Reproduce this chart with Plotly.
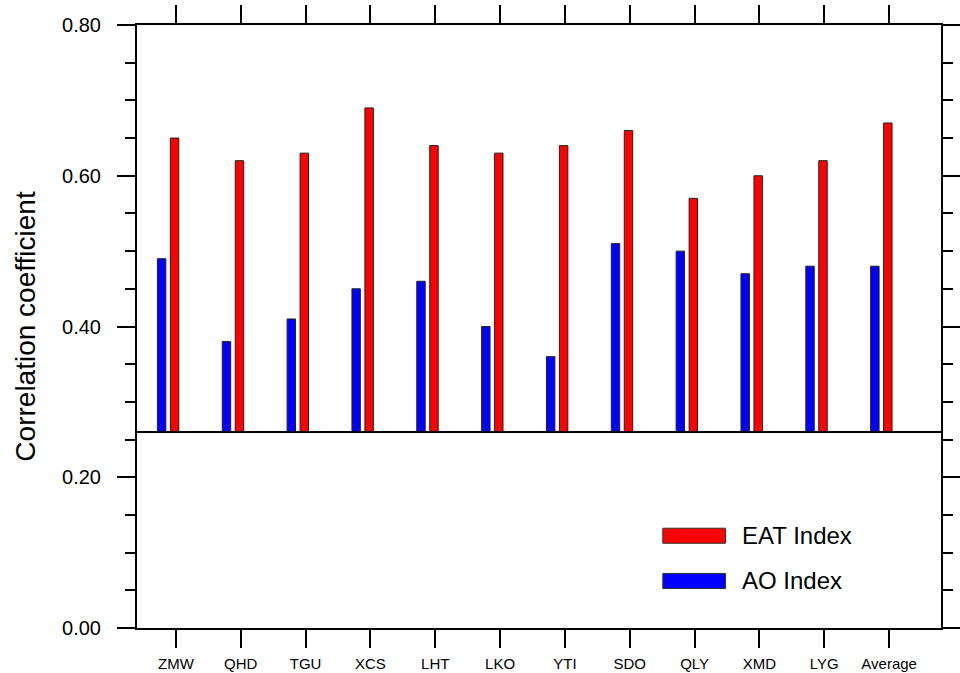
import plotly.graph_objects as go

stations = ["ZMW", "QHD", "TGU", "XCS", "LHT", "LKO", "YTI", "SDO", "QLY", "XMD", "LYG", "Average"]
eat_index = [0.65, 0.62, 0.63, 0.69, 0.64, 0.63, 0.64, 0.66, 0.57, 0.60, 0.62, 0.67]
ao_index = [0.49, 0.38, 0.41, 0.45, 0.46, 0.40, 0.36, 0.51, 0.50, 0.47, 0.48, 0.48]
base_value = 0.26
y_ticks = [0.0, 0.2, 0.4, 0.6, 0.8]

pos = list(range(1, len(stations) + 1))
bw = 0.13
FONT = "Liberation Sans, Arial, Helvetica, sans-serif"

fig = go.Figure()
fig.add_trace(go.Bar(
    x=[p - 0.22 for p in pos], y=[v - base_value for v in ao_index], base=base_value,
    width=bw, marker=dict(color="#0000ff", line=dict(color="#222222", width=1)),
    name="AO Index", showlegend=False))
fig.add_trace(go.Bar(
    x=[p - 0.02 for p in pos], y=[v - base_value for v in eat_index], base=base_value,
    width=bw, marker=dict(color="#ff0000", line=dict(color="#222222", width=1)),
    name="EAT Index", showlegend=False))

# baseline reference line
fig.add_shape(type="line", xref="paper", yref="y", x0=0, x1=1, y0=base_value, y1=base_value,
              line=dict(color="black", width=2), layer="above")

# manual legend
legend_items = [("EAT Index", "#ff0000", 0.153), ("AO Index", "#0000ff", 0.078)]
for label, col, yp in legend_items:
    fig.add_shape(type="rect", xref="paper", yref="paper",
                  x0=0.654, x1=0.732, y0=yp - 0.0125, y1=yp + 0.0125,
                  fillcolor=col, line=dict(color="#333333", width=1))
    fig.add_annotation(text=label, xref="paper", yref="paper", x=0.750, y=yp,
                       xanchor="left", yanchor="middle", showarrow=False,
                       font=dict(family=FONT, size=24, color="black"))

fig.update_layout(
    width=960, height=673,
    margin=dict(l=137, r=19, t=25, b=45),
    paper_bgcolor="white", plot_bgcolor="white",
    barmode="overlay",
    font=dict(family=FONT, color="black"),
    showlegend=False,
)
fig.update_xaxes(
    range=[0.4, 12.8], tickvals=pos, ticktext=stations,
    ticks="outside", ticklen=18, tickwidth=2, tickcolor="black",
    showline=True, linecolor="black", linewidth=2, mirror="ticks",
    showgrid=False, zeroline=False, automargin=False,
    tickfont=dict(family=FONT, size=15, color="black"), ticklabelstandoff=3,
)
fig.update_yaxes(
    range=[0, 0.8], tickvals=y_ticks, tickformat=".2f",
    ticks="outside", ticklen=18, tickwidth=2, tickcolor="black",
    showline=True, linecolor="black", linewidth=2, mirror="ticks",
    showgrid=False, zeroline=False, automargin=False,
    minor=dict(dtick=0.05, ticks="outside", ticklen=10, tickwidth=2, tickcolor="black", showgrid=False),
    tickfont=dict(family=FONT, size=20, color="black"), ticklabelstandoff=12,
    title=dict(text="Correlation coefficient", font=dict(family=FONT, size=28, color="black"), standoff=18),
)

fig.write_html("out.html")
